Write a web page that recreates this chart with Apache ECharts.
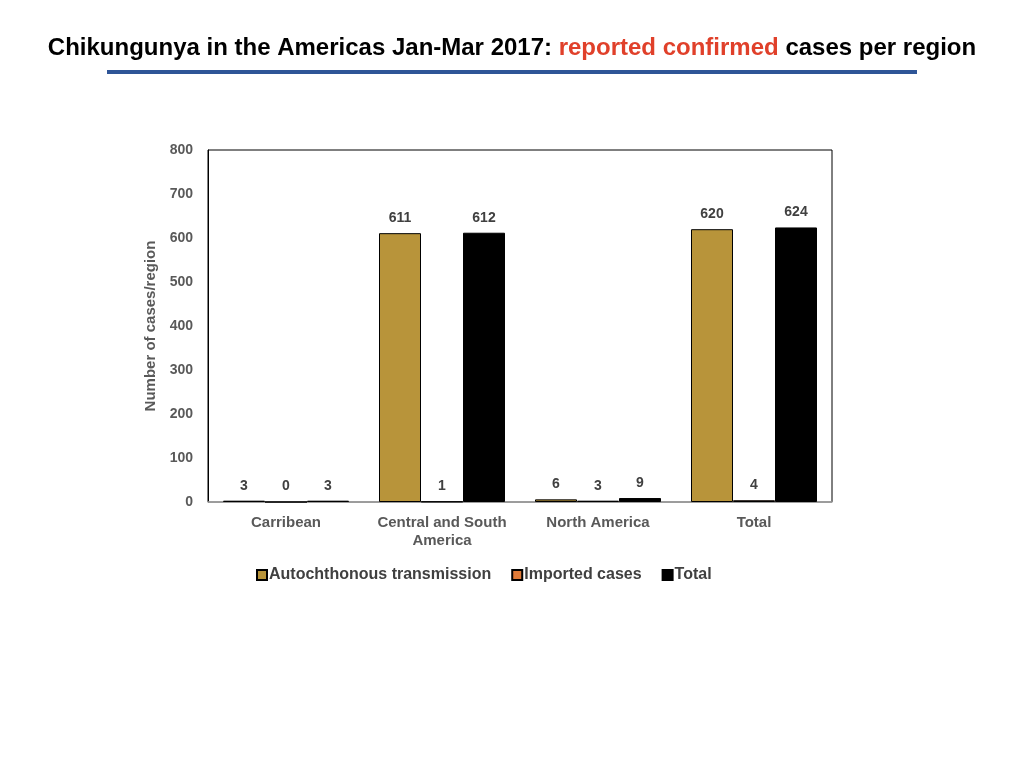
<!DOCTYPE html>
<html>
<head>
<meta charset="utf-8">
<script src="https://cdn.jsdelivr.net/npm/echarts@6/dist/echarts.min.js"></script>
<style>
  html, body { margin: 0; padding: 0; background: #fff; }
  #chart { width: 1024px; height: 768px; }
</style>
</head>
<body>
<div id="chart"></div>
<script>
// regions and case counts
var regions = ['Carribean', 'Central and South\nAmerica', 'North America', 'Total'];
var autochthonous = [3, 611, 6, 620];
var imported = [0, 1, 3, 4];
var totals = [3, 612, 9, 624];
var yTicks = [0, 100, 200, 300, 400, 500, 600, 700, 800];

var chart = echarts.init(document.getElementById('chart'));

var font = 'Liberation Sans, Arial, sans-serif';

var labelStyle = {
    show: true,
    position: 'top',
    distance: 8,
    color: '#404040',
    fontWeight: 'bold',
    fontSize: 14,
    fontFamily: font
};

var option = {
    animation: false,
    backgroundColor: '#fff',
    textStyle: { fontFamily: font },
    title: {
        text: '{a|Chikungunya in the Americas Jan-Mar 2017: }{b|reported confirmed}{a| cases per region}',
        left: 'center',
        top: 31,
        textStyle: {
            rich: {
                a: { fontSize: 24, fontWeight: 'bold', color: '#000', fontFamily: font },
                b: { fontSize: 24, fontWeight: 'bold', color: '#e0402a', fontFamily: font }
            }
        }
    },
    graphic: [{
        type: 'line',
        shape: { x1: 107, y1: 72, x2: 917, y2: 72 },
        style: { stroke: '#2e5597', lineWidth: 4 }
    }],
    legend: {
        top: 562,
        left: 251,
        itemWidth: 10,
        itemHeight: 10,
        itemGap: 20,
        icon: 'rect',
        textStyle: { color: '#404040', fontWeight: 'bold', fontSize: 16, padding: [0, 0, 0, -3] },
        data: ['Autochthonous transmission', 'Imported cases', 'Total']
    },
    grid: {
        left: 208,
        top: 150,
        width: 624,
        height: 352,
        show: true,
        borderColor: '#000',
        borderWidth: 1
    },
    xAxis: {
        type: 'category',
        data: regions,
        axisLine: { lineStyle: { color: '#a6a6a6', width: 1.5 } },
        axisTick: { show: false },
        axisLabel: {
            interval: 0,
            color: '#595959',
            fontWeight: 'bold',
            fontSize: 15,
            margin: 12,
            lineHeight: 18
        }
    },
    yAxis: {
        type: 'value',
        min: yTicks[0],
        max: yTicks[yTicks.length - 1],
        interval: 100,
        name: 'Number of cases/region',
        nameLocation: 'middle',
        nameGap: 45,
        nameTextStyle: { color: '#595959', fontWeight: 'bold', fontSize: 15 },
        axisLine: { show: true, lineStyle: { color: '#000' } },
        axisTick: { show: false },
        splitLine: { show: false },
        axisLabel: { color: '#595959', fontWeight: 'bold', fontSize: 14, margin: 15 }
    },
    series: [{
        name: 'Autochthonous transmission',
        type: 'bar',
        data: autochthonous,
        barWidth: 42,
        barGap: '0%',
        itemStyle: { color: '#b8943a', borderColor: '#000', borderWidth: 1 },
        label: labelStyle
    }, {
        name: 'Imported cases',
        type: 'bar',
        data: imported,
        barWidth: 42,
        barGap: '0%',
        itemStyle: { color: '#e07b39', borderColor: '#000', borderWidth: 1 },
        label: labelStyle
    }, {
        name: 'Total',
        type: 'bar',
        data: totals,
        barWidth: 42,
        barGap: '0%',
        itemStyle: { color: '#000', borderColor: '#000', borderWidth: 1 },
        label: labelStyle
    }]
};

chart.setOption(option);
</script>
</body>
</html>
